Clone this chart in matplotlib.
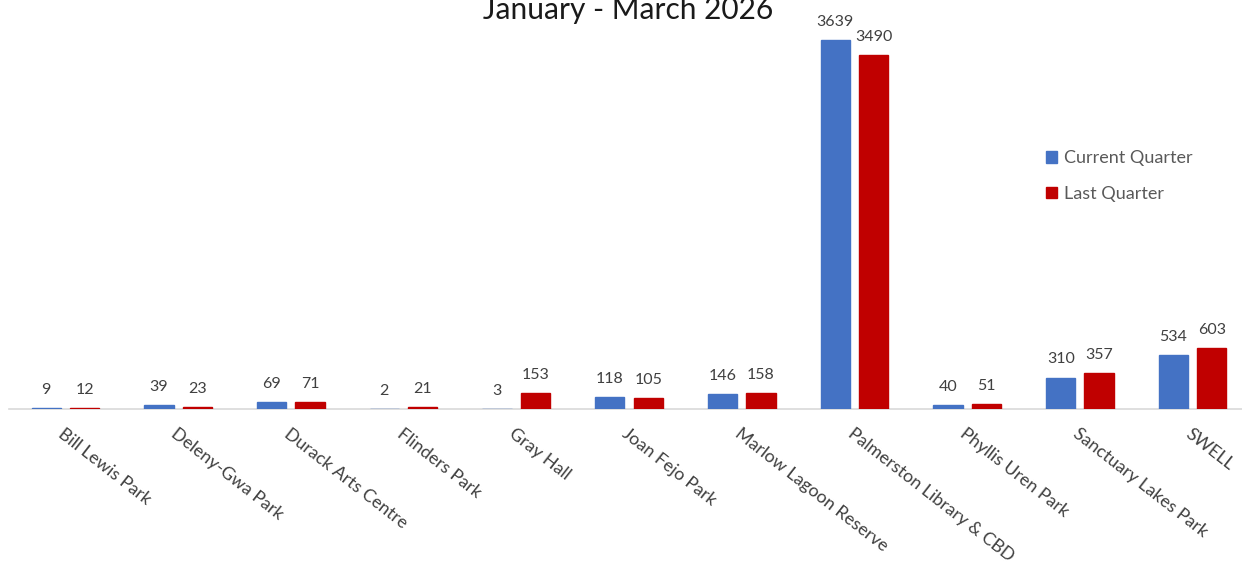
import matplotlib
matplotlib.use("Agg")
import matplotlib.pyplot as plt
import numpy as np

plt.rcParams['font.family'] = ['Lato', 'DejaVu Sans']

# data
sites = ["Bill Lewis Park", "Deleny-Gwa Park", "Durack Arts Centre", "Flinders Park",
         "Gray Hall", "Joan Fejo Park", "Marlow Lagoon Reserve",
         "Palmerston Library & CBD", "Phyllis Uren Park", "Sanctuary Lakes Park", "SWELL"]
current_q = [9, 39, 69, 2, 3, 118, 146, 3639, 40, 310, 534]
last_q = [12, 23, 71, 21, 153, 105, 158, 3490, 51, 357, 603]

blue = '#4472C4'
red = '#C00000'
txt = '#404040'

fig = plt.figure(figsize=(12.42, 5.63), dpi=100)
ax = fig.add_axes([9 / 1242, 154 / 563, 1240 / 1242, 405.6 / 563])

x = np.arange(len(sites))
w = 0.26
off = 0.17
b1 = ax.bar(x - off, current_q, w, color=blue, edgecolor=blue, linewidth=1.0,
            label='Current Quarter', zorder=3)
b2 = ax.bar(x + off, last_q, w, color=red, edgecolor=red, linewidth=1.0,
            label='Last Quarter', zorder=3)

for bars in (b1, b2):
    for b in bars:
        ax.annotate(str(int(b.get_height())), (b.get_x() + b.get_width() / 2, b.get_height()),
                    xytext=(0, 8), textcoords='offset points', ha='center', va='bottom',
                    fontsize=11.5, color=txt)

ax.set_xlim(-0.5, len(sites) - 0.5)
ax.set_ylim(0, 4000)
for s in ['top', 'right', 'left']:
    ax.spines[s].set_visible(False)
ax.spines['bottom'].set_color('#d9d9d9')
ax.spines['bottom'].set_linewidth(1.2)
ax.spines['bottom'].set_zorder(1)
ax.set_yticks([])
ax.set_xticks(x)
ax.set_xticklabels(sites, rotation=-38, ha='left', va='top', rotation_mode='anchor',
                   fontsize=12.8, color=txt)
ax.tick_params(axis='x', length=0, pad=12)

leg = ax.legend(loc='upper left', bbox_to_anchor=(1030 / 1242, 1 - 134 / 563),
                bbox_transform=fig.transFigure,
                frameon=False, fontsize=13, handlelength=0.6, handleheight=0.6,
                handletextpad=0.4, labelspacing=1.1)
for t in leg.get_texts():
    t.set_color('#595959')

fig.text(628 / 1242, 1 - 19 / 563, "January - March 2026", ha='center', va='baseline',
         fontsize=21.5, color='#1a1a1a')

fig.savefig('out.png', dpi=100)
